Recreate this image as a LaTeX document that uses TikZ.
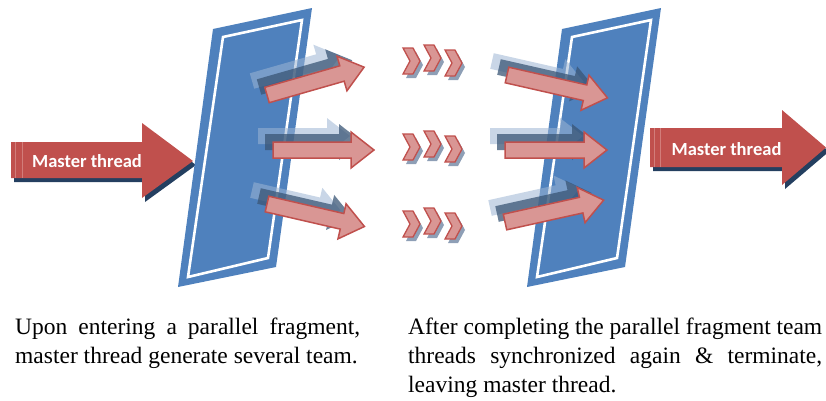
\documentclass[tikz,border=0pt]{standalone}
\usepackage{fontspec}
\setmainfont{Liberation Serif}
\newfontfamily\labelfont{Carlito}

\definecolor{panelblue}{HTML}{4F81BD}
\definecolor{mred}{HTML}{C0504D}
\definecolor{mredlight}{HTML}{D27D7A}
\definecolor{mpink}{HTML}{D99694}
\definecolor{mshadow}{HTML}{243F60}
\definecolor{ghostdark}{HTML}{3A5676}
\definecolor{ghostlight}{HTML}{9DB5D3}
\definecolor{chevshadow}{HTML}{8E9FB6}

% block arrow: tail centre (#1,#2), angle #3, length #4, style #5
\newcommand\teamarrow[5]{%
  \path[#5, shift={(#1,#2)}, rotate=#3]
    (0,-8) -- ({#4-23},-8) -- ({#4-23},-18) -- (#4,0)
    -- ({#4-23},18) -- ({#4-23},8) -- (0,8) -- cycle;}

% arrow with its two fading trails
\newcommand\trailarrow[4]{%
  \teamarrow{#1-15}{#2-14}{#3}{#4-9}{lightghost}
  \teamarrow{#1-8}{#2-8}{#3}{#4-4}{darkghost}
  \teamarrow{#1}{#2}{#3}{#4}{pinkarrow}}

% one chevron, top-left corner (#1,#2)
\newcommand\chevshape[3]{%
  \path[#3] (#1,#2) -- ++(10,0) -- ++(7,13) -- ++(-7,13) -- ++(-10,0) -- ++(7,-13) -- cycle;}
\newcommand\chevron[2]{%
  \chevshape{#1+3}{#2+4}{fill=chevshadow}
  \chevshape{#1}{#2}{chevstyle}}
\newcommand\chevrow[1]{%
  \chevron{403}{#1}\chevron{424}{#1-3}\chevron{445}{#1+2}}

\tikzset{
  panel/.style={fill=panelblue},
  panelline/.style={draw=white, line width=2.6pt, line join=miter},
  master/.style={fill=mred},
  mastershadow/.style={fill=mshadow},
  edgeline/.style={draw=mredlight, line width=0.8pt},
  pinkarrow/.style={fill=mpink, draw=mred, line width=1.5pt, line join=miter},
  darkghost/.style={fill=ghostdark, fill opacity=0.75},
  lightghost/.style={fill=ghostlight, fill opacity=0.55},
  chevstyle/.style={fill=mpink, draw=mred, line width=1.3pt, line join=miter},
  mlabel/.style={font=\labelfont\bfseries\fontsize{18.5}{20}\selectfont, text=white, inner sep=0},
  note/.style={font=\fontsize{23.5}{29}\selectfont, anchor=north west, inner sep=0, align=left}
}

\begin{document}
\begin{tikzpicture}[x=1pt,y=-1pt]
\useasboundingbox (0,0) rectangle (826,400);

% ---- incoming master thread ----
\path[mastershadow, shift={(3,4)}] (11,142) -- (142,142) -- (142,123) -- (193,161) -- (142,198) -- (142,178) -- (11,178) -- cycle;
\path[master] (11,142) -- (142,142) -- (142,123) -- (193,161) -- (142,198) -- (142,178) -- (11,178) -- cycle;
\draw[edgeline] (15,142) -- (15,178) (22,142) -- (22,178);
\node[mlabel] (mleft) at (87,161) {Master thread};

% ---- fork barrier ----
\path[panel] (213,29) -- (312,8) -- (276,267) -- (178,287) -- cycle;
\draw[panelline] (223,37) -- (302,20) -- (268,258) -- (188,277) -- cycle;

% ---- join barrier ----
\begin{scope}[shift={(349,0)}]
\path[panel] (213,29) -- (312,8) -- (276,267) -- (178,287) -- cycle;
\draw[panelline] (223,37) -- (302,20) -- (268,258) -- (188,277) -- cycle;
\end{scope}

% ---- team threads leaving the fork ----
\trailarrow{267}{95}{16}{101}
\trailarrow{273}{150}{0}{101}
\trailarrow{267}{204}{-13}{100}

% ---- team threads running ----
\chevrow{48}
\chevrow{134}
\chevrow{211}

% ---- team threads reaching the join ----
\trailarrow{507}{75}{-12.8}{103}
\trailarrow{505}{150}{0}{102}
\trailarrow{505}{222}{12.5}{101}

% ---- outgoing master thread ----
\path[mastershadow, shift={(3,4)}] (650,128) -- (782,128) -- (782,110) -- (826,147.5) -- (782,185) -- (782,167) -- (650,167) -- cycle;
\path[master] (650,128) -- (782,128) -- (782,110) -- (826,147.5) -- (782,185) -- (782,167) -- (650,167) -- cycle;
\draw[edgeline] (654,128) -- (654,167) (660,128) -- (660,167);
\node[mlabel] (mright) at (726.5,149) {Master thread};

% ---- captions ----
\node[note] (forknote) at (15,318)
  {\makebox[345pt][s]{Upon entering a parallel fragment,}\\
   master thread generate several team.};
\node[note] (joinnote) at (408,318)
  {\makebox[414pt][s]{After completing the parallel fragment team}\\
   \makebox[414pt][s]{threads synchronized again \& terminate,}\\
   leaving master thread.};
\end{tikzpicture}
\end{document}
